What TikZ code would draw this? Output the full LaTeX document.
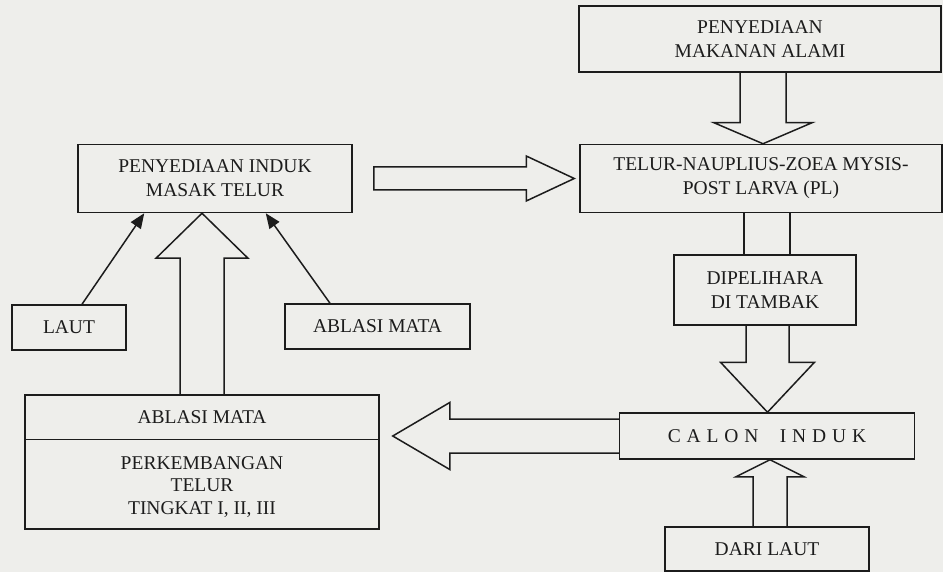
\documentclass[tikz,border=0pt]{standalone}
\usepackage{fontspec}
\setmainfont{Liberation Serif}
\usetikzlibrary{arrows.meta,calc}
\definecolor{bg}{HTML}{EEEEEB}
\definecolor{ink}{HTML}{1C1C1C}
\begin{document}
\begin{tikzpicture}[x=1pt,y=-1pt,
  box/.style={draw=ink,line width=1.5pt,inner sep=0pt,align=center,
    font=\fontsize{19.5}{24}\selectfont,text=ink},
  lbl/.style={inner sep=0pt,align=center,font=\fontsize{19.5}{22.5}\selectfont,text=ink},
  blk/.style={draw=ink,line width=1.5pt,line join=miter},
  thinarrow/.style={draw=ink,line width=1.5pt,-{Triangle[length=15pt,width=12pt]}}]
\fill[bg] (0,0) rectangle (943,572);
\useasboundingbox (0,0) rectangle (943,572);

% boxes
\node[box,minimum width=362pt,minimum height=66pt] (makanan) at (760,39) {PENYEDIAAN\\MAKANAN ALAMI};
\node[box,minimum width=362pt,minimum height=68pt] (telur) at (761,178.5) {TELUR-NAUPLIUS-ZOEA MYSIS-\\POST LARVA (PL)};
\node[box,minimum width=274pt,minimum height=68pt] (induk) at (215,178.5) {PENYEDIAAN INDUK\\MASAK TELUR};
\node[box,minimum width=114pt,minimum height=45pt] (laut) at (69,327.5) {LAUT};
\node[box,minimum width=185pt,minimum height=45pt] (ablasi) at (377.5,326.5) {ABLASI MATA};
\node[box,minimum width=182pt,minimum height=70pt] (dip) at (765,290) {DIPELIHARA\\DI TAMBAK};
\node[box,minimum width=295pt,minimum height=46pt] (calon) at (767,436)
  {\addfontfeature{LetterSpace=30}CALON\hspace{1.1em}INDUK};
\node[box,minimum width=204pt,minimum height=44pt] (dari) at (767,549) {DARI LAUT};
\node[box,minimum width=354pt,minimum height=134pt] (bl) at (202,462) {};
\coordinate (dl) at ($(bl.north west)+(0,45)$);
\coordinate (dr) at ($(bl.north east)+(0,45)$);
\draw[ink,line width=1.5pt] (dl) -- (dr);
\node[lbl] (blt) at ($(bl.north)+(0,22.5)$) {ABLASI MATA};
\node[lbl] (blb) at ($(bl.north)+(0,92.5)$) {PERKEMBANGAN\\TELUR\\TINGKAT I, II, III};

% thin arrows
\draw[thinarrow] ($(laut.north)+(13,0)$) -- ($(induk.south west)+(67,0)$);
\draw[thinarrow] ($(ablasi.north)+(-47.5,0)$) -- ($(induk.south east)+(-87,0)$);

% block arrow makanan -> telur
\coordinate (a1s) at ($(makanan.south)+(3,0)$);
\coordinate (a1t) at (a1s |- telur.north);
\draw[blk] ($(a1s)+(-23,0)$) -- ($(a1t)+(-23,-21)$) -- ($(a1t)+(-49,-21)$) -- (a1t)
  -- ($(a1t)+(49,-21)$) -- ($(a1t)+(23,-21)$) -- ($(a1s)+(23,0)$);

% block arrow induk -> telur
\coordinate (a2s) at ($(induk.east)+(21,0)$);
\coordinate (a2t) at ($(telur.west)+(-5,0)$);
\draw[blk] ($(a2s)+(0,-11.5)$) -- ($(a2t)+(-48,-11.5)$) -- ($(a2t)+(-48,-22.5)$) -- (a2t)
  -- ($(a2t)+(-48,22.5)$) -- ($(a2t)+(-48,11.5)$) -- ($(a2s)+(0,11.5)$) -- cycle;

% telur -> dipelihara (shaft only)
\coordinate (a3l) at ($(telur.south)+(-17,0)$);
\coordinate (a3r) at ($(telur.south)+(29,0)$);
\draw[blk] (a3l) -- (a3l |- dip.north);
\draw[blk] (a3r) -- (a3r |- dip.north);

% dipelihara -> calon
\coordinate (a4s) at ($(dip.south)+(2.5,0)$);
\coordinate (a4t) at (a4s |- calon.north);
\draw[blk] ($(a4s)+(-21.5,0)$) -- ($(a4t)+(-21.5,-50)$) -- ($(a4t)+(-47,-50)$) -- (a4t)
  -- ($(a4t)+(47,-50)$) -- ($(a4t)+(21.5,-50)$) -- ($(a4s)+(21.5,0)$);

% calon -> bottom-left box
\coordinate (a5s) at (calon.west);
\coordinate (a5t) at ($(bl.east |- calon.west)+(13,0)$);
\draw[blk] ($(a5s)+(0,-17)$) -- ($(a5t)+(57,-17)$) -- ($(a5t)+(57,-33.5)$) -- (a5t)
  -- ($(a5t)+(57,33.5)$) -- ($(a5t)+(57,17)$) -- ($(a5s)+(0,17)$);

% dari laut -> calon
\coordinate (a6s) at ($(dari.north)+(3,0)$);
\coordinate (a6t) at (a6s |- calon.south);
\draw[blk] ($(a6s)+(-17,0)$) -- ($(a6t)+(-17,17)$) -- ($(a6t)+(-34,17)$) -- (a6t)
  -- ($(a6t)+(34,17)$) -- ($(a6t)+(17,17)$) -- ($(a6s)+(17,0)$);

% bottom-left -> induk
\coordinate (a7s) at (bl.north);
\coordinate (a7t) at (a7s |- induk.south);
\draw[blk] ($(a7s)+(-22,0)$) -- ($(a7t)+(-22,45)$) -- ($(a7t)+(-46,45)$) -- (a7t)
  -- ($(a7t)+(46,45)$) -- ($(a7t)+(22,45)$) -- ($(a7s)+(22,0)$);
\end{tikzpicture}
\end{document}
